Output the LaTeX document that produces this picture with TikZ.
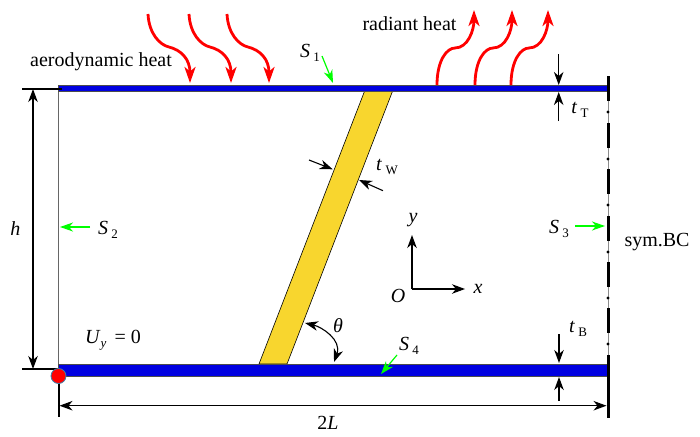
\documentclass[tikz,border=0pt]{standalone}
\usepackage{fontspec}
\setmainfont{Liberation Serif}
\usetikzlibrary{arrows.meta,positioning}
\newcommand{\symb}[2]{\textit{#1}\,\raisebox{-3.5pt}{\fontsize{13}{13}\selectfont #2}}
\tikzset{
  lbl/.style={font=\fontsize{20}{22}\selectfont,inner sep=0pt},
  dim/.style={line width=1.1pt,-{Stealth[length=13pt,width=9.5pt,inset=4pt]}},
  dimboth/.style={line width=1.1pt,{Stealth[length=13pt,width=9.5pt,inset=4pt]}-{Stealth[length=13pt,width=9.5pt,inset=4pt]}},
  gr/.style={line width=1.2pt,color=green,-{Stealth[length=13pt,width=9pt,inset=4pt]}},
  heat/.style={line width=2.8pt,color=red,-{Stealth[length=16pt,width=11pt,inset=4.5pt]}},
  plate/.style={draw=black!70,line width=0.8pt,fill={rgb,255:red,0;green,0;blue,225}},
  tick/.style={line width=2pt}
}
\begin{document}
\begin{tikzpicture}[x=1pt,y=-1pt]
  \useasboundingbox (0,0) rectangle (700,436);

  % Draw web and plates
  \draw[line width=0.6pt,fill={rgb,255:red,248;green,214;blue,46}] (365,90) -- (393,90) -- (287,364) -- (259,364) -- cycle;
  \draw[line width=1pt,color=black!60] (58,91) -- (58,364);
  \node[plate,minimum width=550pt,minimum height=6pt,inner sep=0pt,anchor=north west] (top) at (58,85) {};
  \node[plate,minimum width=550pt,minimum height=12pt,inner sep=0pt,anchor=north west] (bottom) at (58,364) {};

  % Draw symmetry line
  \draw[line width=0.8pt,color=black!45] (608,76) -- (608,418);
  \foreach \y in {76,123,169,216,262,308} {
    \draw[line width=3pt] (608,\y) -- (608,\y+24.5);
    \fill (608,\y+36) circle (1.7pt);
  }
  \draw[line width=3pt] (608,355) -- (608,418);

  % Draw left support
  \coordinate (hT) at (33,89);
  \coordinate (hB) at (33,369);
  \draw[tick] (22,89) -- (62,89);
  \draw[tick] (22,369) -- (58,369);
  \draw[tick] (58.5,376) -- (58.5,417);
  \draw[dimboth] (hT) -- (hB) node[lbl,midway,left=12pt] (hlabel) {\textit{h}};
  \node[circle,draw={rgb,255:red,60;green,130;blue,170},line width=0.8pt,fill=red,minimum size=15pt,inner sep=0pt] (pin) at (58.5,376) {};

  % Draw length
  \coordinate (lenL) at (59.5,405.7);
  \coordinate (lenR) at (606.5,405.7);
  \draw[dimboth] (lenL) -- (lenR);
  \node[lbl] (lenlabel) at (328,423) {2\textit{L}};

  % Draw heat arrows
  \foreach \x/\i in {148/1,189/2,227/3} {
    \coordinate (in\i) at (\x,14);
    \draw[heat,shift={(in\i)}] (in\i) .. controls (1,20) and (12,31) .. (21,33) .. controls (33,36) and (42,45) .. (42,69);
  }
  \foreach \x/\i in {437/1,475/2,511/3} {
    \coordinate (out\i) at (\x,85);
    \draw[heat,shift={(out\i)}] (out\i) .. controls (0,-25) and (10,-37) .. (18,-37) .. controls (31,-37) and (37,-55) .. (37,-75);
  }
  \node[lbl] (aero) at (101,62) {aerodynamic heat};
  \node[lbl] (radiant) at (409.5,24) {radiant heat};

  % Draw thickness arrows
  \coordinate (tTa) at (558.7,54);
  \coordinate (tTb) at (558.7,85);
  \coordinate (tTc) at (558.7,121);
  \coordinate (tTd) at (558.7,92);
  \draw[dim] (tTa) -- (tTb);
  \draw[dim] (tTc) -- (tTd);
  \node[lbl] (tT) at (580,110) {\symb{t}{T}};
  \coordinate (tBa) at (559,334);
  \coordinate (tBb) at (559,363);
  \coordinate (tBc) at (559,401);
  \coordinate (tBd) at (559,377);
  \draw[dim] (tBa) -- (tBb);
  \draw[dim] (tBc) -- (tBd);
  \node[lbl] (tB) at (578,329) {\symb{t}{B}};
  \coordinate (tWa) at (309,160);
  \coordinate (tWb) at (332.7,169.3);
  \coordinate (tWc) at (383,190.7);
  \coordinate (tWd) at (359,180);
  \draw[dim] (tWa) -- (tWb);
  \draw[dim] (tWc) -- (tWd);
  \node[lbl] (tW) at (387,167) {\symb{t}{W}};

  % Draw angle
  \coordinate (angA) at (305,323);
  \coordinate (angB) at (334,362);
  \draw[dimboth] (angA) .. controls (322,327) and (342,340) .. (angB);
  \node[lbl] (theta) at (338,326) {\textit{θ}};

  % Draw axes
  \coordinate (origin) at (412,289);
  \coordinate (xend) at (465,289);
  \coordinate (yend) at (412,235);
  \draw[dim] (origin) -- (xend);
  \draw[dim] (origin) -- (yend);
  \node[lbl] (O) at (398,296) {\textit{O}};
  \node[lbl] (xlabel) at (478,289) {\textit{x}};
  \node[lbl] (ylabel) at (413,220) {\textit{y}};

  % Draw surface labels
  \coordinate (s1a) at (322,56);
  \coordinate (s1b) at (333,83);
  \draw[gr] (s1a) -- (s1b);
  \node[lbl] (S1) at (310,53) {\symb{S}{1}};
  \coordinate (s2a) at (90,227);
  \coordinate (s2b) at (60,227);
  \draw[gr] (s2a) -- (s2b);
  \node[lbl] (S2) at (108,230) {\symb{S}{2}};
  \coordinate (s3a) at (575,226);
  \coordinate (s3b) at (605,226);
  \draw[gr] (s3a) -- (s3b);
  \node[lbl] (S3) at (559,229) {\symb{S}{3}};
  \coordinate (s4a) at (397,355);
  \coordinate (s4b) at (381,374);
  \draw[gr] (s4a) -- (s4b);
  \node[lbl] (S4) at (409,346) {\symb{S}{4}};

  % Draw remaining labels
  \node[lbl] (symBC) at (657,242) {sym.BC};
  \node[lbl] (Uy) at (113,340) {\textit{U}\raisebox{-3.5pt}{\fontsize{13}{13}\selectfont\textit{y}}\, = 0};
\end{tikzpicture}
\end{document}
